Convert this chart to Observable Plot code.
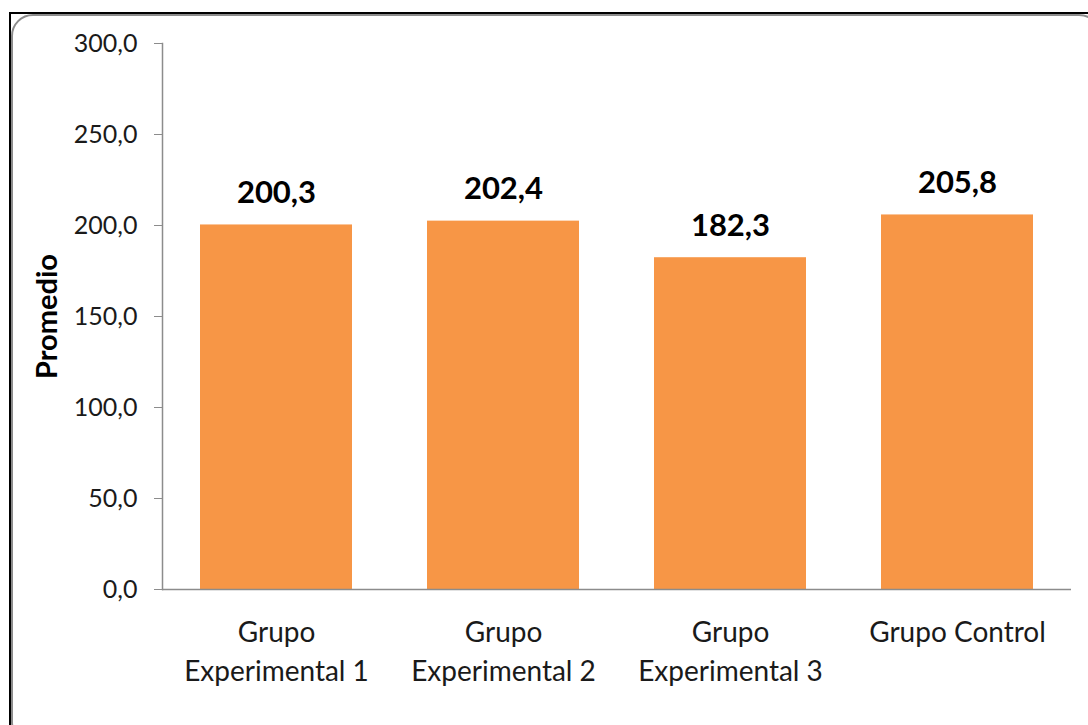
<!DOCTYPE html>
<html>
<head>
<meta charset="utf-8">
<script src="https://cdn.jsdelivr.net/npm/d3@7"></script>
<script src="https://cdn.jsdelivr.net/npm/@observablehq/plot@0.6"></script>
<style>
  html, body { margin: 0; padding: 0; background: #fff; }
  #wrap { position: relative; width: 1088px; height: 725px; overflow: hidden; }
  #frame {
    position: absolute; left: 9px; top: 12px; width: 1100px; height: 740px;
    border-top: 2px solid #000; border-left: 2px solid #000; box-sizing: border-box;
  }
  #inner {
    position: absolute; left: 11px; top: 14px; width: 1090px; height: 730px;
    border: 2px solid #8c8c8c; border-radius: 22px; box-sizing: border-box;
  }
  #chart { position: absolute; left: 0; top: 0; }
  svg text { font-family: Lato, "Noto Sans", sans-serif; }
</style>
</head>
<body>
<div id="wrap">
  <div id="frame"></div>
  <div id="inner"></div>
  <div id="chart"></div>
</div>
<script>
// Average score per group
const groups = ["Grupo\nExperimental 1", "Grupo\nExperimental 2", "Grupo\nExperimental 3", "Grupo Control"];
const promedio = [200.3, 202.4, 182.3, 205.8];
const yTicks = [0, 50, 100, 150, 200, 250, 300];

const data = groups.map((g, i) => ({group: g, value: promedio[i]}));
const fmt = v => v.toFixed(1).replace(".", ",");

const chart = Plot.plot({
  width: 1088,
  height: 725,
  marginTop: 43,
  marginBottom: 136,
  marginLeft: 162,
  marginRight: 17,
  style: {background: "transparent", overflow: "visible"},
  x: {domain: groups, paddingInner: 0.33, paddingOuter: 0.165, label: null},
  y: {domain: [0, 300], label: null},
  marks: [
    Plot.barY(data, {x: "group", y: "value", fill: "#F79646"}),
    // axis lines: baseline and left spine
    Plot.ruleY([0], {stroke: "#8c8c8c", strokeWidth: 1.5}),
    Plot.frame({anchor: "left", stroke: "#8c8c8c", strokeWidth: 1.5}),
    Plot.axisY({
      ticks: yTicks, tickFormat: fmt, tickSize: 8, tickPadding: 17,
      stroke: "#8c8c8c", fill: "#1a1a1a", fontSize: 25, label: null
    }),
    Plot.axisX({
      tickSize: 0, tickPadding: 25, fontSize: 28, lineHeight: 1.39,
      fill: "#1a1a1a", label: null
    }),
    Plot.text(data, {
      x: "group", y: "value", text: d => fmt(d.value),
      dy: -32, fontSize: 31, fontWeight: "bold", fill: "#000"
    }),
    Plot.text(["Promedio"], {
      frameAnchor: "left", textAnchor: "middle", dx: -115, rotate: -90,
      fontSize: 29, fontWeight: "bold", fill: "#000"
    })
  ]
});
document.getElementById("chart").appendChild(chart);
</script>
</body>
</html>
